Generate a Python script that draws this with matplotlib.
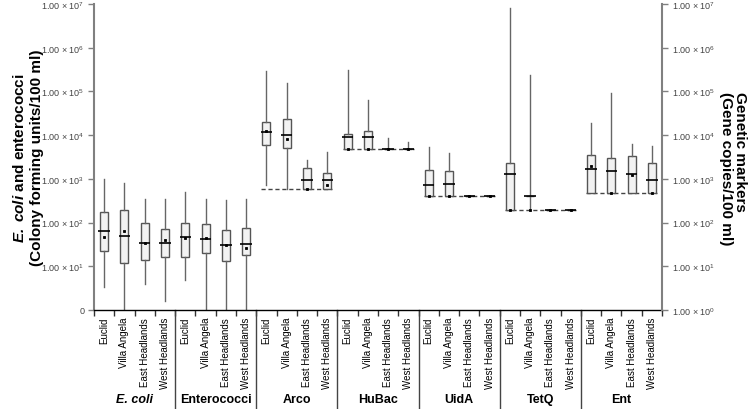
import numpy as np
import matplotlib
matplotlib.use("Agg")
import matplotlib.pyplot as plt
from matplotlib.transforms import blended_transform_factory
from matplotlib.ticker import NullLocator, FixedLocator

plt.rcParams['font.family'] = ['Liberation Sans', 'DejaVu Sans']
plt.rcParams['mathtext.fontset'] = 'custom'
plt.rcParams['mathtext.rm'] = 'Liberation Sans'
plt.rcParams['mathtext.it'] = 'Liberation Sans:italic'
plt.rcParams['mathtext.bf'] = 'Liberation Sans:bold'
plt.rcParams['mathtext.bfit'] = 'Liberation Sans:italic:bold'

groups = ["E. coli", "Enterococci", "Arco", "HuBac", "UidA", "TetQ", "Ent"]
sites = ["Euclid", "Villa Angela", "East Headlands", "West Headlands"]

# one value per box, groups in order, sites in order (0 = not detected)
whis_lo = [3.3, 0, 3.9, 1.6, 4.9, 0, 0, 0,
           710, 600, 590, 590, 4700, 4700, 4700, 4700,
           405, 405, 405, 405, 195, 195, 195, 195, 480, 480, 480, 480]
q1 = [22, 12, 14, 16, 16, 20, 13, 18,
      6000, 5200, 590, 590, 4700, 4700, 4700, 4700,
      405, 405, 405, 405, 195, 405, 195, 195, 480, 480, 480, 480]
med = [63, 50, 35, 34, 47, 41, 30, 32,
       12000, 10200, 930, 950, 9100, 9100, 4750, 4750,
       740, 760, 405, 405, 1260, 405, 195, 195, 1700, 1550, 1290, 950]
q3 = [178, 195, 100, 72, 98, 93, 68, 74,
      20000, 23400, 1740, 1350, 10500, 12600, 4800, 4750,
      1580, 1480, 405, 405, 2340, 405, 195, 195, 3600, 3000, 3300, 2300]
whis_hi = [1000, 810, 350, 355, 510, 340, 330, 350,
           295000, 158000, 2750, 4200, 316000, 63000, 8500, 6900,
           5400, 3900, 405, 405, 7.9e6, 234000, 195, 195, 19000, 93000, 6300, 5600]
means = [46, 63, 34, 39, 44, 45, 30, 26,
         12300, 8300, 600, 720, 4700, 4800, 4750, 4750,
         405, 405, 405, 405, 195, 195, 195, 195, 2000, 480, 1230, 480]
# detection limits of the genetic markers
lod = [None, None, 590, 4700, 405, 195, 480]

left_labels = ["0"] + [r"1.00 × 10$^{%d}$" % i for i in range(1, 8)]
right_labels = [r"1.00 × 10$^{%d}$" % i for i in range(0, 8)]

fig = plt.figure(figsize=(7.54, 4.10), dpi=100)
ax = fig.add_axes([94 / 754, 1 - 311 / 410, 568 / 754, 306 / 410])

n = len(groups) * len(sites)
pos = np.arange(n) + 0.5

stats = []
for i in range(n):
    stats.append(dict(
        whislo=max(whis_lo[i], 1), q1=max(q1[i], 1), med=max(med[i], 1),
        q3=max(q3[i], 1), whishi=max(whis_hi[i], 1), mean=max(means[i], 1),
        fliers=[]))

ax.set_yscale('log')
ax.bxp(stats, positions=pos, widths=0.4, patch_artist=True, showmeans=True,
       showcaps=False,
       boxprops=dict(facecolor='#f2f2f2', edgecolor='#555555', linewidth=1),
       whiskerprops=dict(color='#666666', linewidth=1),
       medianprops=dict(linewidth=0),
       meanprops=dict(marker='s', markersize=1.6, markeredgewidth=0.6,
                      markerfacecolor='black', markeredgecolor='black'))
ax.hlines(np.maximum(med, 1), pos - 0.28, pos + 0.28, color='black', lw=1.2, zorder=4)

for g, v in enumerate(lod):
    if v:
        ax.hlines(v, 4 * g + 0.25, 4 * g + 3.75, color='#444444',
                  linestyles=(0, (3, 2)), lw=1, zorder=1)

ax.set_xlim(0, n)
ax.set_ylim(1, 1e7)

# y axes
ax.yaxis.set_major_locator(FixedLocator([10.0 ** i for i in range(8)]))
ax.yaxis.set_minor_locator(NullLocator())
ax.set_yticklabels(left_labels)
ax.tick_params(axis='y', length=4, width=1, color='#808080', labelsize=6.5,
               labelcolor='#444444', pad=3)

ax2 = ax.twinx()
ax2.set_yscale('log')
ax2.set_ylim(1, 1e7)
ax2.yaxis.set_major_locator(FixedLocator([10.0 ** i for i in range(8)]))
ax2.yaxis.set_minor_locator(NullLocator())
ax2.set_yticklabels(right_labels)
ax2.tick_params(axis='y', length=4, width=1, color='#808080', labelsize=6.5,
                labelcolor='#444444', pad=3)

for s in ['top', 'right']:
    ax.spines[s].set_visible(False)
for s in ['top', 'left', 'bottom']:
    ax2.spines[s].set_visible(False)
ax.spines['left'].set_color('#808080')
ax.spines['left'].set_linewidth(1.5)
ax2.spines['right'].set_color('#808080')
ax2.spines['right'].set_linewidth(1.5)
ax.spines['bottom'].set_color('black')
ax.spines['bottom'].set_linewidth(1)

# x axis: site labels, short ticks between sites
ax.set_xticks(pos)
ax.set_xticklabels(sites * len(groups), rotation=90, fontsize=7)
ax.tick_params(axis='x', which='major', length=0, pad=5)
ax.xaxis.set_minor_locator(FixedLocator(np.arange(0, n + 1)))
ax.tick_params(axis='x', which='minor', length=4, width=1, color='#333333')

tr = blended_transform_factory(ax.transData, ax.transAxes)
for g in range(1, len(groups)):
    ax.plot([4 * g, 4 * g], [0, -0.33], color='#444444', lw=1,
            transform=tr, clip_on=False)

for g, name in enumerate(groups):
    if name == "E. coli":
        ax.text(4 * g + 2, -0.29, name, transform=tr, ha='center',
                va='center', fontsize=9, fontweight='bold', fontstyle='italic')
    else:
        ax.text(4 * g + 2, -0.29, name, transform=tr, ha='center',
                va='center', fontsize=9, fontweight='bold')

fig.text(28 / 754, 1 - 158 / 410,
         "$\\mathbfit{E.}$ $\\mathbfit{coli}$ and enterococci\n(Colony forming units/100 ml)",
         rotation=90, ha='center', va='center', fontsize=11,
         fontweight='bold', multialignment='center', linespacing=1.25)
fig.text(733 / 754, 1 - 92 / 410,
         "Genetic markers\n(Gene copies/100 ml)",
         rotation=270, ha='center', va='top', fontsize=11,
         fontweight='bold', multialignment='left', linespacing=1.05)

fig.savefig("out.png", dpi=100)
